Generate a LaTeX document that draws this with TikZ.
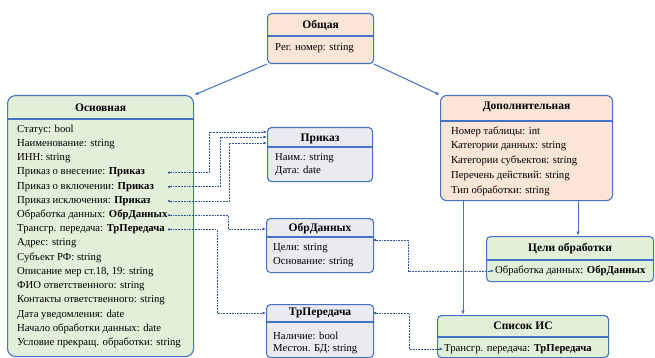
\documentclass[tikz,border=0pt]{standalone}
\usepackage{fontspec}
\setmainfont{Liberation Serif}
\usepackage{tikz}
\usetikzlibrary{arrows.meta,calc,positioning}
\definecolor{frameBlue}{HTML}{4472C4}
\definecolor{linkBlue}{HTML}{2F5597}
\definecolor{peachFill}{HTML}{FBE5D6}
\definecolor{greenFill}{HTML}{E2F0D9}
\definecolor{greyFill}{HTML}{E9EBF1}

\begin{document}
\begin{tikzpicture}[x=1pt,y=-1pt,>=Latex,
    cls/.style={draw=frameBlue,line width=1.1pt,rounded corners=4pt,anchor=north west,inner sep=0pt},
    hdr/.style={font=\fontsize{11.5}{13}\selectfont\bfseries,inner sep=0pt},
    row/.style={font=\fontsize{10.7}{12}\selectfont,anchor=west,inner sep=0pt},
    sep/.style={draw=frameBlue,line width=1.1pt},
    inh/.style={draw=frameBlue,line width=1pt,-{Latex[length=4.5pt,width=3.5pt]}},
    link/.style={draw=linkBlue,line width=0.8pt,dash pattern=on 1.8pt off 1pt,{Circle[length=2.2pt]}-{Latex[length=3.5pt,width=3pt]}}]
    \useasboundingbox (0,0) rectangle (655,358);
    % boxes
    \node[cls,fill=peachFill,minimum width=106pt,minimum height=50pt] (obs) at (267,13) {};
    \node[cls,fill=greenFill,rounded corners=8pt,minimum width=186pt,minimum height=261pt] (osn) at (7,95) {};
    \node[cls,fill=peachFill,rounded corners=6pt,minimum width=172pt,minimum height=105pt] (dop) at (440,95) {};
    \node[cls,fill=greyFill,minimum width=105pt,minimum height=54pt] (prk) at (267,127) {};
    \node[cls,fill=greyFill,minimum width=107pt,minimum height=54pt] (obr) at (266,218) {};
    \node[cls,fill=greyFill,minimum width=107pt,minimum height=53pt] (trp) at (266,304) {};
    \node[cls,fill=greenFill,minimum width=167pt,minimum height=45pt] (cel) at (486,236) {};
    \node[cls,fill=greenFill,minimum width=171pt,minimum height=42pt] (sis) at (437,315) {};
    % headers
    \node[hdr] (obs-h) at ($(obs.north)+(0,12)$) {Общая};
    \node[hdr] (osn-h) at ($(osn.north)+(0,13)$) {Основная};
    \node[hdr] (dop-h) at ($(dop.north)+(0,12)$) {Дополнительная};
    \node[hdr] (prk-h) at ($(prk.north)+(0,12)$) {Приказ};
    \node[hdr] (obr-h) at ($(obr.north)+(0,11)$) {ОбрДанных};
    \node[hdr] (trp-h) at ($(trp.north)+(0,9)$) {ТрПередача};
    \node[hdr] (cel-h) at ($(cel.north)+(0,13)$) {Цели обработки};
    \node[hdr] (sis-h) at ($(sis.north)+(0,11)$) {Список ИС};
    \foreach \b/\d in {obs/23,osn/24,dop/26,prk/20,obr/19,trp/18,cel/24,sis/22}
      \draw[sep] ($(\b.north west)+(0,\d)$) -- ($(\b.north east)+(0,\d)$);
    % rows
    \node[row] (obs-1) at (275,48) {Рег. номер: string};
    \foreach \txt [count=\i] in {Статус: bool,Наименование: string,ИНН: string,
        Приказ о внесение: \textbf{Приказ},Приказ о включении: \textbf{Приказ},
        Приказ исключения: \textbf{Приказ},Обработка данных: \textbf{ОбрДанных},
        Трансгр. передача: \textbf{ТрПередача},Адрес: string,Субъект РФ: string,
        {Описание мер ст.18, 19: string},ФИО ответственного: string,
        Контакты ответственного: string,Дата уведомления: date,
        Начало обработки данных: date,Условие прекращ. обработки: string}
      \node[row] (osn-\i) at (17,{130+(\i-1)*14.2}) {\txt};
    \foreach \txt [count=\i] in {Номер таблицы: int,Категории данных: string,
        Категории субъектов: string,Перечень действий: string,Тип обработки: string}
      \node[row] (dop-\i) at (451,{132+(\i-1)*14.6}) {\txt};
    \node[row] (prk-1) at (275,158) {Наим.: string};
    \node[row] (prk-2) at (275,171) {Дата: date};
    \node[row] (obr-1) at (273,248) {Цели: string};
    \node[row] (obr-2) at (273,262) {Основание: string};
    \node[row] (trp-1) at (273,336) {Наличие: bool};
    \node[row] (trp-2) at (273,349) {Местон. БД: string};
    \node[row] (cel-1) at (495,271) {Обработка данных: \textbf{ОбрДанных}};
    \node[row] (sis-1) at (444,349) {Трансгр. передача: \textbf{ТрПередача}};
    % connectors
    \draw[inh] (obs.south west) -- (osn.north east);
    \draw[inh] (obs.south east) -- (dop.north west);
    \coordinate (dl) at (463,0);
    \coordinate (dr) at (578,0);
    \draw[inh] (dop.south -| dl) -- (sis.north -| dl);
    \draw[inh] (dop.south -| dr) -- (cel.north -| dr);
    \coordinate (osx) at (168,0);
    \draw[link] (osn-4 -| osx) -| (209,132) -- ($(prk.north west)+(0,5)$);
    \draw[link] (osn-5 -| osx) -| (220,137) -- ($(prk.north west)+(0,10)$);
    \draw[link] (osn-6 -| osx) -| (229,143) -- ($(prk.north west)+(0,16)$);
    \draw[link] (osn-7 -| osx) -| (228,229) -- ($(obr.north west)+(0,11)$);
    \draw[link] (osn-8 -| osx) -| (217,313) -- ($(trp.north west)+(0,9)$);
    \draw[link] ($(obr.north east)+(0,22)$) -| (408,271) -- ($(cel-1.west)+(-1,0)$);
    \draw[link] ($(trp.north east)+(0,9)$) -| (409,349) -- ($(sis-1.west)+(-1,0)$);
  \end{tikzpicture}
\end{document}
